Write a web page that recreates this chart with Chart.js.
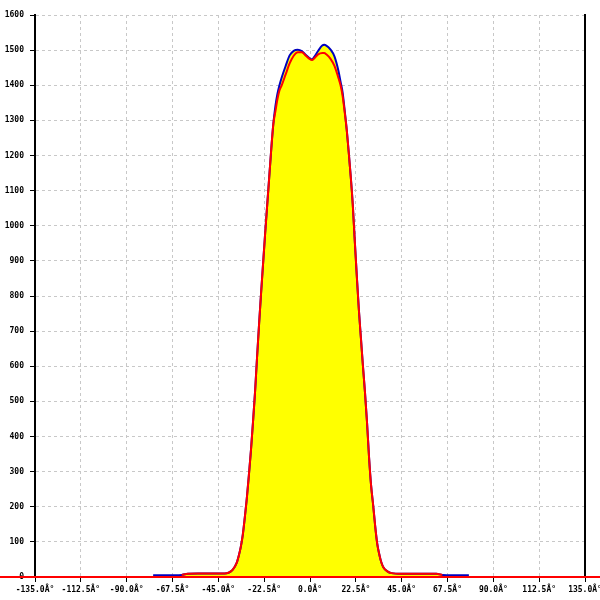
<!DOCTYPE html>
<html>
<head>
<meta charset="utf-8">
<script src="https://cdn.jsdelivr.net/npm/chart.js@4/dist/chart.umd.min.js"></script>
<style>
  html, body { margin: 0; padding: 0; background: #fff; }
  #wrap { width: 600px; height: 600px; }
</style>
</head>
<body>
<div id="wrap"><canvas id="beamChart"></canvas></div>
<script>
// ── Data ──────────────────────────────────────────────────────────────────
const blueAngles = [-77, -70, -63, -60, -55, -50, -45, -42, -40, -38, -36, -35, -34, -33, -32, -31, -30, -29, -28, -27, -26, -25, -24, -23, -22, -21, -20, -19, -18, -17, -16, -15, -14, -12, -10, -8, -6, -4, -2, 0, 1, 2, 4, 6, 7, 8, 10, 12, 14, 15, 16, 17, 18, 19, 20, 21, 22, 23, 24, 25, 26, 27, 28, 29, 30, 31, 32, 33, 34, 35, 36, 38, 40, 45, 55, 62, 65, 70, 78];
const blueValues = [5, 5, 6, 9, 10, 10, 10, 10, 12, 20, 40, 60, 85, 120, 170, 225, 290, 360, 440, 525, 625, 720, 810, 895, 980, 1060, 1140, 1220, 1290, 1340, 1375, 1400, 1420, 1454, 1485, 1498, 1501, 1497, 1486, 1476, 1474, 1480, 1498, 1513, 1515, 1513, 1502, 1482, 1440, 1410, 1380, 1330, 1275, 1210, 1140, 1060, 955, 855, 760, 680, 600, 525, 440, 340, 260, 205, 145, 95, 65, 42, 28, 16, 11, 9, 9, 9, 6, 5, 5];

const redAngles = [-63, -60, -55, -50, -45, -42, -40, -38, -36, -35, -34, -33, -32, -31, -30, -29, -28, -27, -26, -25, -24, -23, -22, -21, -20, -19, -18, -17, -16, -15, -14, -12, -10, -8, -6, -4, -2, 0, 1, 2, 4, 6, 7, 8, 10, 12, 14, 15, 16, 17, 18, 19, 20, 21, 22, 23, 24, 25, 26, 27, 28, 29, 30, 31, 32, 33, 34, 35, 36, 38, 40, 45, 55, 62, 65];
const redValues = [6, 9, 10, 10, 10, 10, 12, 20, 40, 60, 85, 120, 170, 225, 290, 360, 440, 525, 625, 720, 810, 895, 980, 1060, 1140, 1220, 1290, 1325, 1360, 1385, 1398, 1430, 1462, 1484, 1494, 1494, 1484, 1474, 1472, 1476, 1488, 1492, 1492, 1488, 1476, 1455, 1420, 1400, 1370, 1325, 1275, 1210, 1140, 1060, 955, 855, 760, 680, 600, 525, 440, 340, 260, 205, 145, 95, 65, 42, 28, 16, 11, 9, 9, 9, 6];

const baselineAngles = [-160, 160];
const baselineValues = [0, 0];

const xTicks = [-135, -112.5, -90, -67.5, -45, -22.5, 0, 22.5, 45, 67.5, 90, 112.5, 135];
const yMin = 0, yMax = 1600, yStep = 100;

const toPoints = (xs, ys) => xs.map((x, i) => ({ x: x, y: ys[i] }));

const labelFont = { family: 'DejaVu Sans Mono', size: 8, weight: 'bold' };

// ── Chart ─────────────────────────────────────────────────────────────────
const ctx = document.getElementById('beamChart').getContext('2d');
const chart = new Chart(ctx, {
    type: 'line',
    data: {
        datasets: [
            { data: toPoints(baselineAngles, baselineValues), borderColor: '#ff0000', borderWidth: 2, pointRadius: 0, fill: false, clip: false },
            { data: toPoints(redAngles, redValues), borderColor: '#ff0000', borderWidth: 2, pointRadius: 0, fill: false, cubicInterpolationMode: 'monotone' },
            { data: toPoints(blueAngles, blueValues), borderColor: '#0000c0', backgroundColor: '#ffff00', borderWidth: 2, pointRadius: 0, fill: 'origin', cubicInterpolationMode: 'monotone' }
        ]
    },
    options: {
        responsive: true,
        maintainAspectRatio: false,
        animation: false,
        layout: { padding: { top: 15, right: 0, left: 0, bottom: 0 } },
        plugins: { legend: { display: false }, tooltip: { enabled: false } },
        scales: {
            x: {
                type: 'linear',
                min: -135,
                max: 135,
                afterBuildTicks: s => { s.ticks = xTicks.map(v => ({ value: v })); },
                afterFit: s => { s.height = 23; s.paddingLeft = 0; s.paddingRight = 0; },
                grid: { color: '#c8c8c8', tickColor: '#000', tickLength: 5, lineWidth: 1 },
                border: { display: true, color: '#000', width: 2, dash: [3, 3] },
                ticks: {
                    color: '#000', font: labelFont, padding: 3, maxRotation: 0, autoSkip: false,
                    callback: v => v.toFixed(1) + 'Â°'
                }
            },
            y: {
                min: yMin,
                max: yMax,
                afterFit: s => { s.width = 35; s.paddingTop = 0; s.paddingBottom = 0; },
                grid: { color: '#c8c8c8', tickColor: '#000', tickLength: 5, lineWidth: 1 },
                border: { display: true, color: '#000', width: 2, dash: [3, 3] },
                ticks: { stepSize: yStep, color: '#000', font: labelFont, padding: 6, callback: v => String(v) }
            },
            yRight: {
                position: 'right',
                min: yMin,
                max: yMax,
                afterFit: s => { s.width = 15; },
                grid: { display: false, drawTicks: false },
                border: { display: true, color: '#000', width: 2 },
                ticks: { display: false }
            }
        }
    }
});
</script>
</body>
</html>
